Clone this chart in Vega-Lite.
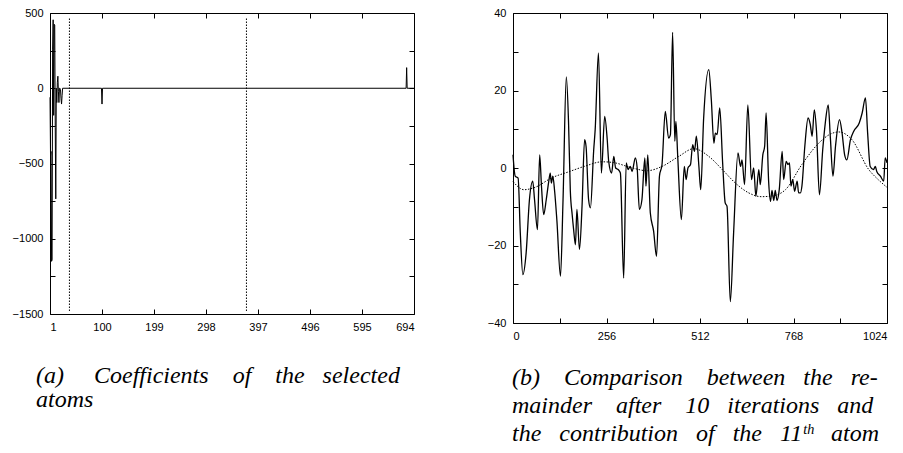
{
  "$schema": "https://vega.github.io/schema/vega-lite/v6.json",
  "background": "white",
  "padding": {"left": 11, "top": 6, "right": 5, "bottom": 5},
  "bounds": "flush",
  "spacing": 99,
  "config": {
    "view": {"stroke": "black", "strokeWidth": 1},
    "axis": {
      "grid": false, "domain": false, "tickColor": "black", "tickSize": -5, "tickWidth": 1,
      "labelFont": "Liberation Sans", "labelFontSize": 11, "labelColor": "black",
      "labelPadding": 12, "title": null
    },
    "title": {
      "font": "Liberation Serif", "fontSize": 24, "fontStyle": "italic", "fontWeight": "normal",
      "color": "black"
    }
  },
  "datasets": {
    "coef": [
      {"i": 1, "c": -60}, {"i": 2, "c": -450}, {"i": 3, "c": -420}, {"i": 4, "c": -1150},
      {"i": 5, "c": -1140}, {"i": 6, "c": 260}, {"i": 7, "c": 455}, {"i": 8, "c": -180},
      {"i": 9, "c": 425}, {"i": 10, "c": 420}, {"i": 11, "c": -260}, {"i": 12, "c": -735},
      {"i": 13, "c": 0}, {"i": 14, "c": -95}, {"i": 15, "c": 40}, {"i": 16, "c": 80},
      {"i": 17, "c": -20}, {"i": 18, "c": -95}, {"i": 19, "c": 0}, {"i": 20, "c": 0},
      {"i": 21, "c": -10}, {"i": 22, "c": -70}, {"i": 23, "c": -105}, {"i": 24, "c": -50},
      {"i": 25, "c": 0}, {"i": 99, "c": 0}, {"i": 100, "c": -105}, {"i": 101, "c": 0},
      {"i": 679, "c": 0}, {"i": 680, "c": 137}, {"i": 681, "c": 0}, {"i": 694, "c": 0}
    ],
    "marks": [
      {"i": 38, "lo": -1480, "hi": 470},
      {"i": 375, "lo": -1480, "hi": 470}
    ],
    "sig": [
      {"x": 0, "y": 3.4}, {"x": 6, "y": -2.1}, {"x": 14, "y": -2.6}, {"x": 20, "y": -16.8},
      {"x": 27, "y": -27.5}, {"x": 36, "y": -21.9}, {"x": 45, "y": -8.2}, {"x": 54, "y": -3.4},
      {"x": 59, "y": -8.2}, {"x": 67, "y": -15.9}, {"x": 73, "y": 3.4}, {"x": 78, "y": -4.7},
      {"x": 84, "y": -12}, {"x": 91, "y": -8.2}, {"x": 98, "y": -3.4}, {"x": 102, "y": -1.3},
      {"x": 105, "y": -3.9}, {"x": 109, "y": -2.1}, {"x": 114, "y": -6}, {"x": 120, "y": -13.3},
      {"x": 130, "y": -27.9}, {"x": 137, "y": -8.2}, {"x": 146, "y": 23.5}, {"x": 152, "y": 12},
      {"x": 157, "y": -6}, {"x": 162, "y": -12}, {"x": 166, "y": -15.9}, {"x": 171, "y": -19.8},
      {"x": 175, "y": -10.7}, {"x": 182, "y": -21}, {"x": 189, "y": -9.9}, {"x": 196, "y": 7.3},
      {"x": 200, "y": 5.6}, {"x": 207, "y": -8.2}, {"x": 212, "y": -10.3}, {"x": 221, "y": 4.7},
      {"x": 225, "y": 9.9}, {"x": 234, "y": 29.7}, {"x": 242, "y": -1.3}, {"x": 251, "y": 13.3},
      {"x": 258, "y": 7.3}, {"x": 262, "y": 1.7}, {"x": 270, "y": -1.3}, {"x": 276, "y": 3},
      {"x": 281, "y": 0}, {"x": 288, "y": -0.4}, {"x": 294, "y": -1.3}, {"x": 303, "y": -28.4},
      {"x": 310, "y": 1.3}, {"x": 315, "y": -0.4}, {"x": 321, "y": 0.4}, {"x": 326, "y": -0.9},
      {"x": 335, "y": 2.6}, {"x": 340, "y": 0}, {"x": 346, "y": -10.7}, {"x": 353, "y": -8.2},
      {"x": 361, "y": 2.6}, {"x": 364, "y": -4.7}, {"x": 369, "y": 3.4}, {"x": 376, "y": -11.6},
      {"x": 385, "y": -16.3}, {"x": 393, "y": -22.8}, {"x": 401, "y": -2.1}, {"x": 408, "y": 0.9},
      {"x": 417, "y": 14.6}, {"x": 426, "y": 7.7}, {"x": 431, "y": 8.6}, {"x": 437, "y": 35},
      {"x": 443, "y": 6.9}, {"x": 446, "y": 12}, {"x": 451, "y": 3}, {"x": 461, "y": -13.3},
      {"x": 469, "y": 0.4}, {"x": 474, "y": -3}, {"x": 479, "y": 0}, {"x": 486, "y": 0.9},
      {"x": 492, "y": 6}, {"x": 497, "y": 4.3}, {"x": 502, "y": 8.2}, {"x": 509, "y": 0.4},
      {"x": 514, "y": -5.6}, {"x": 522, "y": 12.9}, {"x": 536, "y": 25.4}, {"x": 543, "y": 17.6},
      {"x": 550, "y": 6.4}, {"x": 554, "y": 9}, {"x": 559, "y": 8.6}, {"x": 566, "y": 15.5},
      {"x": 574, "y": 1.3}, {"x": 581, "y": -9}, {"x": 586, "y": -9.9}, {"x": 595, "y": -34.5},
      {"x": 604, "y": -16.8}, {"x": 616, "y": 3.9}, {"x": 623, "y": 0.4}, {"x": 627, "y": 2.1},
      {"x": 634, "y": -4.3}, {"x": 643, "y": 16.3}, {"x": 653, "y": -3}, {"x": 659, "y": 0},
      {"x": 665, "y": -7.3}, {"x": 673, "y": -0.4}, {"x": 677, "y": -4.3}, {"x": 684, "y": 3.4},
      {"x": 689, "y": 5.6}, {"x": 693, "y": 14.2}, {"x": 700, "y": -3.6}, {"x": 705, "y": -8.6},
      {"x": 709, "y": -5.8}, {"x": 714, "y": -8.4}, {"x": 718, "y": -5.8}, {"x": 723, "y": -8.4},
      {"x": 729, "y": -5.6}, {"x": 737, "y": 4.3}, {"x": 741, "y": -3}, {"x": 748, "y": 1.7},
      {"x": 753, "y": 0.9}, {"x": 757, "y": 1.3}, {"x": 761, "y": -4.7}, {"x": 766, "y": -3},
      {"x": 771, "y": -6}, {"x": 778, "y": -3.4}, {"x": 782, "y": -6.4}, {"x": 787, "y": -6.4},
      {"x": 791, "y": -4.7}, {"x": 799, "y": 5.6}, {"x": 808, "y": 12.9}, {"x": 814, "y": 11.2},
      {"x": 819, "y": 8.2}, {"x": 825, "y": 15}, {"x": 831, "y": 9.5}, {"x": 839, "y": -6.9},
      {"x": 848, "y": 4.7}, {"x": 855, "y": 11.6}, {"x": 863, "y": 16.3}, {"x": 869, "y": 7.7},
      {"x": 876, "y": -2.1}, {"x": 883, "y": 5.6}, {"x": 894, "y": 12.5}, {"x": 901, "y": 9},
      {"x": 908, "y": 3.4}, {"x": 914, "y": 2.1}, {"x": 924, "y": 7.3}, {"x": 933, "y": 9.5},
      {"x": 948, "y": 11.6}, {"x": 956, "y": 14.2}, {"x": 965, "y": 18.1}, {"x": 971, "y": 9},
      {"x": 978, "y": 0.4}, {"x": 987, "y": -0.4}, {"x": 992, "y": 0.4}, {"x": 996, "y": -0.9},
      {"x": 1006, "y": -2.1}, {"x": 1015, "y": -3.4}, {"x": 1019, "y": 2.6}, {"x": 1024, "y": 1.3}
    ],
    "atom": [
      {"x": 0, "y": -3.5}, {"x": 30, "y": -5.6}, {"x": 60, "y": -5}, {"x": 107, "y": -2.5},
      {"x": 152, "y": -1}, {"x": 198, "y": 0.5}, {"x": 244, "y": 1.6}, {"x": 275, "y": 1.4},
      {"x": 320, "y": 0.2}, {"x": 367, "y": -0.7}, {"x": 410, "y": 0.5}, {"x": 454, "y": 3},
      {"x": 495, "y": 5}, {"x": 536, "y": 3}, {"x": 573, "y": -0.4}, {"x": 609, "y": -3.9},
      {"x": 645, "y": -6.4}, {"x": 680, "y": -7.4}, {"x": 710, "y": -7.2}, {"x": 746, "y": -5.6},
      {"x": 791, "y": 0.9}, {"x": 837, "y": 6.4}, {"x": 870, "y": 8.8}, {"x": 892, "y": 9.3},
      {"x": 928, "y": 7.3}, {"x": 974, "y": -0.4}, {"x": 1000, "y": -3}, {"x": 1024, "y": -5}
    ]
  },
  "hconcat": [
    {
      "width": 364,
      "height": 301,
      "title": {
        "text": ["(a)\u00a0\u00a0\u00a0\u00a0 Coefficients\u00a0\u00a0\u00a0 of\u00a0\u00a0\u00a0 the\u00a0\u00a0 selected", "atoms"],
        "orient": "bottom", "anchor": "start", "frame": "group", "dx": -14, "offset": 32, "lineHeight": 24
      },
      "layer": [
        {
          "data": {"name": "coef"},
          "mark": {"type": "line", "color": "black", "strokeWidth": 1},
          "encoding": {
            "x": {"field": "i", "type": "quantitative",
              "scale": {"domain": [1, 694], "nice": false, "zero": false},
              "axis": {"orient": "bottom", "values": [1, 100, 199, 298, 397, 496, 595, 694]}},
            "y": {"field": "c", "type": "quantitative",
              "scale": {"domain": [-1500, 500], "nice": false},
              "axis": {"orient": "left", "format": "d",
                "values": [-1500, -1250, -1000, -750, -500, -250, 0, 250, 500],
                "labelExpr": "datum.value % 500 === 0 ? datum.label : ''"}}
          }
        },
        {
          "data": {"name": "marks"},
          "mark": {"type": "rule", "color": "black", "strokeWidth": 1, "strokeDash": [1.5, 1.5]},
          "encoding": {
            "x": {"field": "i", "type": "quantitative",
              "axis": {"orient": "top", "labels": false, "values": [1, 100, 199, 298, 397, 496, 595, 694]}},
            "y": {"field": "lo", "type": "quantitative",
              "axis": {"orient": "right", "labels": false,
                "values": [-1500, -1250, -1000, -750, -500, -250, 0, 250, 500]}},
            "y2": {"field": "hi"}
          }
        }
      ],
      "resolve": {"axis": {"x": "independent", "y": "independent"}}
    },
    {
      "width": 374,
      "height": 310,
      "title": {
        "text": ["(b)\u00a0\u00a0\u00a0 Comparison\u00a0\u00a0\u00a0 between\u00a0\u00a0 the\u00a0\u00a0 re-", "mainder\u00a0\u00a0\u00a0 after\u00a0\u00a0\u00a0 10\u00a0\u00a0 iterations\u00a0\u00a0 and", "the\u00a0\u00a0 contribution\u00a0\u00a0 of\u00a0\u00a0 the\u00a0\u00a0 11\u1d57\u02b0\u00a0\u00a0 atom"],
        "orient": "bottom", "anchor": "start", "frame": "group", "dx": -1, "offset": 25, "lineHeight": 28
      },
      "layer": [
        {
          "data": {"name": "sig"},
          "mark": {"type": "line", "color": "black", "strokeWidth": 1.3, "interpolate": "monotone"},
          "encoding": {
            "x": {"field": "x", "type": "quantitative",
              "scale": {"domain": [0, 1024], "nice": false, "zero": false},
              "axis": {"orient": "bottom", "format": "d", "values": [0, 128, 256, 384, 512, 640, 768, 896, 1024],
                "labelExpr": "datum.value % 256 === 0 ? datum.label : ''"}},
            "y": {"field": "y", "type": "quantitative",
              "scale": {"domain": [-40, 40], "nice": false},
              "axis": {"orient": "left", "values": [-40, -30, -20, -10, 0, 10, 20, 30, 40],
                "labelExpr": "datum.value % 20 === 0 ? datum.label : ''"}}
          }
        },
        {
          "data": {"name": "atom"},
          "mark": {"type": "line", "color": "black", "strokeWidth": 1, "strokeDash": [1.5, 1.5], "interpolate": "monotone"},
          "encoding": {
            "x": {"field": "x", "type": "quantitative",
              "axis": {"orient": "top", "labels": false, "values": [0, 128, 256, 384, 512, 640, 768, 896, 1024]}},
            "y": {"field": "y", "type": "quantitative",
              "axis": {"orient": "right", "labels": false, "values": [-40, -30, -20, -10, 0, 10, 20, 30, 40]}}
          }
        }
      ],
      "resolve": {"axis": {"x": "independent", "y": "independent"}}
    }
  ]
}
